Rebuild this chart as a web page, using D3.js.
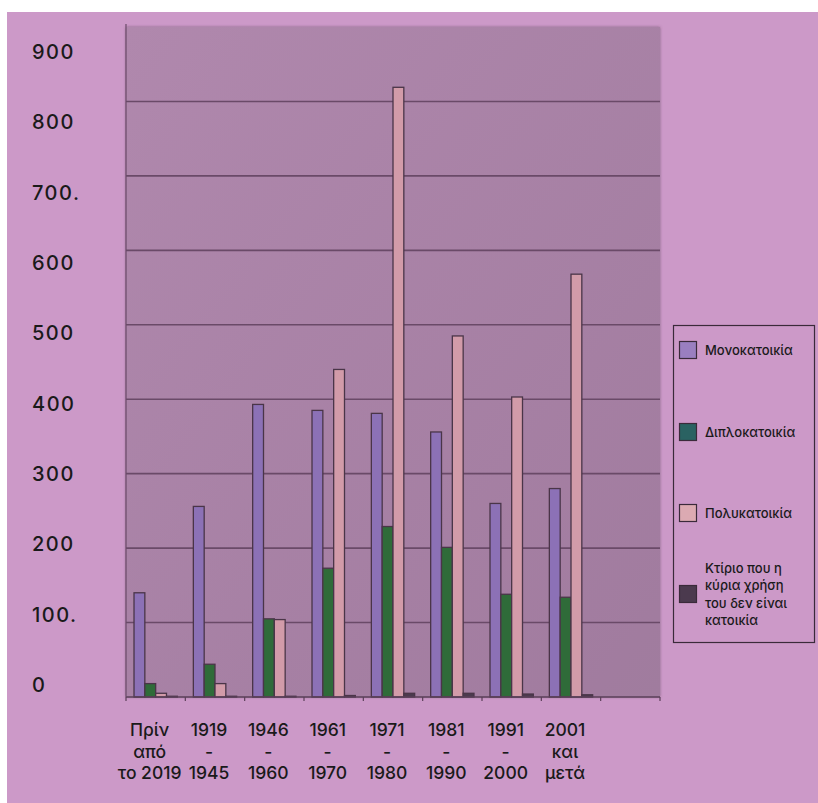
<!DOCTYPE html>
<html>
<head>
<meta charset="utf-8">
<script src="https://cdn.jsdelivr.net/npm/d3@7/dist/d3.min.js"></script>
<style>
  html, body { margin: 0; padding: 0; background: #ffffff; }
  svg { display: block; }
  text { font-family: Inter, "Noto Sans", sans-serif; fill: #1a1a1a; }
</style>
</head>
<body>
<svg id="chart" width="818" height="803"></svg>
<script>
// Building periods (the last slot on the axis is left empty)
const periods = [
  ["Πρίν", "από", "το 2019"],
  ["1919", "-", "1945"],
  ["1946", "-", "1960"],
  ["1961", "-", "1970"],
  ["1971", "-", "1980"],
  ["1981", "-", "1990"],
  ["1991", "-", "2000"],
  ["2001", "και", "μετά"],
  []
];

const seriesNames = [
  "Μονοκατοικία",
  "Διπλοκατοικία",
  "Πολυκατοικία",
  "Κτίριο που η κύρια χρήση του δεν είναι κατοικία"
];

// Number of buildings per period
const singleHouse = [140, 256, 393, 385, 381, 356, 260, 280];
const twoFamily   = [18, 44, 105, 173, 229, 201, 138, 134];
const apartment   = [5, 18, 104, 440, 819, 485, 403, 568];
const nonResident = [1, 1, 1, 2, 5, 5, 4, 3];

const yTickValues = [0, 100, 200, 300, 400, 500, 600, 700, 800, 900];
const yTickLabels = ["0", "100.", "200", "300", "400", "500", "600", "700.", "800", "900"];

const barColors    = ["#8c71b6", "#2f6b39", "#d29ba9", "#4b3a4e"];
const legendColors = ["#9a7fc0", "#2a6262", "#dcaab2", "#4b3a4e"];

const svg = d3.select("#chart");
const defs = svg.append("defs");

const grad = defs.append("linearGradient")
  .attr("id", "plotFill").attr("x1", "0").attr("y1", "0").attr("x2", "1").attr("y2", "1");
grad.append("stop").attr("offset", "0").attr("stop-color", "#b088ad");
grad.append("stop").attr("offset", "1").attr("stop-color", "#a07b9e");

const shadow = defs.append("filter").attr("id", "soft")
  .attr("x", "-5%").attr("y", "-5%").attr("width", "110%").attr("height", "110%");
shadow.append("feDropShadow").attr("dx", 0).attr("dy", 0)
  .attr("stdDeviation", 1.5).attr("flood-color", "#5a3a58").attr("flood-opacity", 0.6);

// Page background
svg.append("rect").attr("x", 7).attr("y", 12).attr("width", 811).attr("height", 791)
  .attr("fill", "#cc99c8");

const plot = { left: 126, right: 660, top: 27, bottom: 697 };

const x = d3.scaleBand()
  .domain(d3.range(periods.length))
  .range([plot.left, plot.right])
  .paddingInner(0.27)
  .paddingOuter(0.135);

const y = d3.scaleLinear().domain([0, 900]).range([plot.bottom, plot.top]);
// Tick labels sit on their own, slightly tighter, vertical scale
const yLabel = d3.scaleLinear().domain([0, 900]).range([685, 52]);

const xs = d3.scaleBand().domain(d3.range(seriesNames.length))
  .range([0, x.bandwidth()]).padding(0);

// Plot area
svg.append("rect")
  .attr("x", plot.left).attr("y", plot.top)
  .attr("width", plot.right - plot.left).attr("height", plot.bottom - plot.top)
  .attr("fill", "url(#plotFill)")
  .attr("filter", "url(#soft)");

// Gridlines
svg.append("g").selectAll("line")
  .data(yTickValues.filter(v => v > 0 && v < 900))
  .join("line")
  .attr("x1", plot.left).attr("x2", plot.right)
  .attr("y1", d => y(d)).attr("y2", d => y(d))
  .attr("stroke", "#6a4a68").attr("stroke-width", 1.6);

// Y tick labels
svg.append("g").selectAll("text")
  .data(yTickValues)
  .join("text")
  .attr("x", 32)
  .attr("y", d => yLabel(d))
  .attr("dominant-baseline", "central")
  .attr("font-size", 20)
  .attr("font-weight", 500)
  .attr("letter-spacing", 1.5)
  .text((d, i) => yTickLabels[i]);

// Bars
const series = [singleHouse, twoFamily, apartment, nonResident];
const barsG = svg.append("g");
series.forEach((vals, s) => {
  barsG.append("g").selectAll("rect")
    .data(vals)
    .join("rect")
    .attr("x", (d, i) => x(i) + xs(s))
    .attr("y", d => y(d))
    .attr("width", xs.bandwidth())
    .attr("height", d => y(0) - y(d))
    .attr("fill", barColors[s])
    .attr("stroke", "#4a3548")
    .attr("stroke-width", 1.3);
});

// Axes lines
svg.append("line")
  .attr("x1", plot.left).attr("x2", plot.right)
  .attr("y1", plot.bottom).attr("y2", plot.bottom)
  .attr("stroke", "#5a3f58").attr("stroke-width", 1.5);
svg.append("line")
  .attr("x1", plot.left).attr("x2", plot.left)
  .attr("y1", plot.top - 3).attr("y2", plot.bottom)
  .attr("stroke", "#6a4a68").attr("stroke-width", 1.2);

// Category boundary ticks
const step = x.step();
svg.append("g").selectAll("line")
  .data(d3.range(periods.length + 1))
  .join("line")
  .attr("x1", i => plot.left + i * step).attr("x2", i => plot.left + i * step)
  .attr("y1", plot.bottom).attr("y2", plot.bottom + 4)
  .attr("stroke", "#5a3f58").attr("stroke-width", 1.2);

// Category labels
const catG = svg.append("g");
periods.forEach((lines, i) => {
  const cx = x(i) + x.bandwidth() / 2 - 6;
  const t = catG.append("text")
    .attr("x", cx)
    .attr("y", 736)
    .attr("text-anchor", "middle")
    .attr("font-size", 17.5)
    .attr("font-weight", 500);
  lines.forEach((ln, k) => {
    t.append("tspan").attr("x", cx)
      .attr("dy", k === 0 ? 0 : 21.5).text(ln);
  });
});

// Legend
const legend = svg.append("g");
legend.append("rect")
  .attr("x", 673.5).attr("y", 325.5).attr("width", 141).attr("height", 317)
  .attr("fill", "none").attr("stroke", "#3a2a3a").attr("stroke-width", 1.2);

const legendY = [350, 432, 513, 594];
const legendLines = [
  ["Μονοκατοικία"],
  ["Διπλοκατοικία"],
  ["Πολυκατοικία"],
  ["Κτίριο που η", "κύρια χρήση", "του δεν είναι", "κατοικία"]
];
seriesNames.forEach((name, i) => {
  legend.append("rect")
    .attr("x", 679.5).attr("y", legendY[i] - 8.5)
    .attr("width", 17).attr("height", 17)
    .attr("fill", legendColors[i])
    .attr("stroke", "#3a2a3a").attr("stroke-width", 1.2);
  const lines = legendLines[i];
  const t = legend.append("text")
    .attr("x", 705)
    .attr("y", legendY[i] - (lines.length - 1) * 17.5 / 2)
    .attr("dominant-baseline", "central")
    .attr("font-size", 13)
    .attr("font-weight", 500);
  lines.forEach((ln, k) => {
    t.append("tspan").attr("x", 705).attr("dy", k === 0 ? 0 : 17.5).text(ln);
  });
});
</script>
</body>
</html>
